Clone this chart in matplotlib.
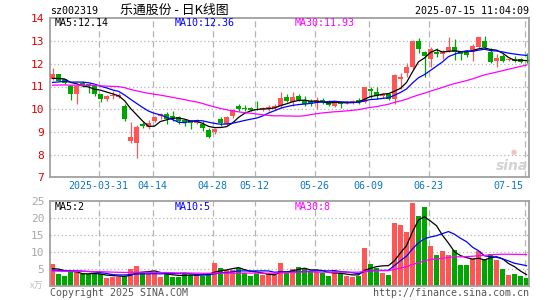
import matplotlib
matplotlib.use("Agg")
import matplotlib.pyplot as plt
import numpy as np
import pandas as pd

# daily candles 2025-03-19 .. 2025-07-15 (80 trading days)
opens = [11.31, 11.53, 11.31, 11.01, 10.65, 11.16, 11.12, 11.07, 10.65, 10.43,
         10.57, 10.53, 10.13, 8.62, 8.52, 9.35, 9.22, 9.49, 9.71, 9.79,
         9.71, 9.64, 9.52, 9.46, 9.39, 9.37, 9.09, 9.01, 9.56, 9.37,
         9.68, 10.12, 10.07, 10.04, 10.02, 9.99, 10.00, 10.07, 10.15, 10.55,
         10.30, 10.60, 10.40, 10.37, 10.31, 10.40, 10.34, 10.15, 10.32, 10.27,
         10.27, 10.41, 10.32, 10.91, 10.76, 10.56, 10.66, 10.47, 11.35, 11.59,
         11.84, 13.00, 12.53, 12.21, 12.53, 12.43, 12.57, 12.76, 12.53, 12.53,
         12.50, 12.72, 13.01, 12.53, 12.13, 12.35, 12.16, 12.22, 12.20, 12.18]
closes = [11.53, 11.26, 11.16, 10.65, 11.01, 11.04, 11.04, 10.65, 10.46, 10.60,
          10.63, 10.63, 9.57, 8.76, 9.21, 9.25, 9.41, 9.64, 9.79, 9.56,
          9.61, 9.46, 9.39, 9.39, 9.49, 9.16, 8.79, 9.12, 9.41, 9.67,
          9.96, 10.03, 10.00, 9.96, 9.98, 10.07, 10.10, 10.15, 10.49, 10.37,
          10.52, 10.40, 10.22, 10.25, 10.40, 10.31, 10.19, 10.35, 10.22, 10.32,
          10.37, 10.32, 10.96, 10.81, 10.56, 10.66, 10.44, 11.50, 11.44, 11.84,
          13.01, 12.65, 12.35, 12.65, 12.43, 12.53, 12.76, 12.53, 12.43, 12.38,
          12.79, 13.16, 12.76, 12.06, 12.24, 12.14, 12.20, 12.14, 12.08, 12.14]
highs = [11.82, 11.56, 11.35, 11.04, 11.04, 11.24, 11.12, 11.10, 10.68, 10.63,
         10.78, 10.70, 10.24, 9.43, 9.32, 9.43, 9.52, 9.68, 9.83, 9.86,
         9.93, 9.68, 9.56, 9.49, 9.56, 9.49, 9.16, 9.19, 9.67, 9.72,
         10.00, 10.22, 10.18, 10.10, 10.34, 10.10, 10.19, 10.25, 10.75, 10.67,
         10.75, 10.65, 10.60, 10.45, 10.52, 10.50, 10.40, 10.38, 10.37, 10.37,
         10.40, 10.50, 11.00, 11.00, 10.99, 10.72, 10.72, 11.54, 11.59, 12.03,
         13.03, 13.12, 12.55, 12.72, 12.68, 12.62, 13.16, 13.09, 12.56, 12.60,
         12.87, 13.16, 13.24, 12.68, 12.43, 12.43, 12.26, 12.35, 12.26, 12.46]
lows = [11.28, 11.24, 11.13, 10.41, 10.21, 11.00, 10.72, 10.60, 10.31, 10.38,
        10.46, 10.50, 9.50, 8.52, 7.84, 9.16, 9.12, 9.45, 9.56, 9.37,
        9.49, 9.37, 9.27, 9.13, 9.35, 9.04, 8.75, 8.90, 9.26, 9.30,
        9.62, 9.93, 9.90, 9.90, 9.95, 9.93, 9.93, 9.96, 10.07, 10.30,
        10.15, 10.35, 10.15, 10.15, 10.00, 10.25, 10.15, 10.10, 10.07, 10.22,
        10.22, 10.22, 10.27, 10.51, 10.47, 10.51, 10.40, 10.22, 10.91, 11.40,
        11.76, 12.47, 11.40, 11.84, 12.28, 12.21, 12.53, 12.18, 12.18, 12.30,
        12.13, 12.68, 12.65, 12.03, 11.88, 12.09, 12.12, 12.06, 12.02, 12.05]
volumes = [6.3, 3.4, 2.8, 4.0, 4.0, 3.3, 3.3, 3.3, 3.3, 2.3,
           2.6, 2.6, 2.8, 4.9, 5.7, 3.8, 3.5, 3.8, 2.6, 3.6,
           2.5, 2.6, 3.8, 3.2, 3.3, 2.9, 3.6, 6.8, 5.3, 4.6,
           4.7, 5.2, 3.8, 2.9, 3.5, 3.2, 3.3, 3.0, 6.7, 4.0,
           4.8, 5.4, 4.8, 4.2, 4.0, 3.7, 2.7, 4.2, 3.7, 2.7,
           2.5, 2.7, 11.1, 6.4, 5.3, 3.7, 3.0, 18.4, 18.0, 15.8,
           24.3, 20.5, 23.1, 11.7, 8.9, 10.1, 8.9, 10.4, 6.0, 6.0,
           7.9, 10.1, 7.9, 9.2, 7.5, 5.0, 3.0, 3.3, 2.7, 2.2]

# sessions before the window, only feed the moving averages
prior_closes = [11.08, 11.02, 10.96, 11.05, 11.10, 10.98, 10.92, 11.00, 11.06, 10.95,
                10.90, 10.98, 11.04, 11.12, 11.00, 10.94, 10.88, 10.96, 11.02, 10.98,
                11.05, 10.92, 11.00, 10.96, 11.08, 11.30, 11.25, 11.40, 11.32]
prior_volumes = [4.5, 3.8, 4.0, 4.6, 3.9, 4.2, 4.4, 3.7, 4.1, 4.8,
                 4.0, 3.9, 4.3, 4.5, 3.8, 4.1, 4.6, 4.0, 3.9, 4.2,
                 4.4, 4.1, 3.8, 4.0, 4.3, 4.2, 4.9, 5.2, 4.6]

tick_idx = [8, 17, 27, 34, 44, 53, 63, 79]
tick_labels = ['2025-03-31', '04-14', '04-28', '05-12', '05-26', '06-09', '06-23', '07-15']

price_ma_text = ['MA5:12.14', 'MA10:12.36', 'MA30:11.93']
vol_ma_text = ['MA5:2', 'MA10:5', 'MA30:8']

RED = '#ff5555'
GREEN = '#00a600'
GRID = '#b4b4b4'
FRAME = '#a0a0a0'
DATE_C = '#0a78c8'
MONO = 'DejaVu Sans Mono'
FS = 7.2

n = len(closes)
x = np.arange(n)
o = np.array(opens)
c = np.array(closes)
up = c >= o
cols = [RED if u else GREEN for u in up]

cs = pd.Series(prior_closes + closes)
vs = pd.Series(prior_volumes + volumes)
k = len(prior_closes)
ma = {p: cs.rolling(p, min_periods=1).mean().values[k:] for p in (5, 10, 30)}
vk = len(prior_volumes)
vma = {p: vs.rolling(p, min_periods=1).mean().values[vk:] for p in (5, 10, 30)}

W, H = 545, 300
fig = plt.figure(figsize=(W / 100, H / 100), dpi=100)
fig.patch.set_facecolor('white')

def px_axes(l, t, r, b):
    return fig.add_axes([l / W, 1 - b / H, (r - l) / W, (b - t) / H])

ax = px_axes(50, 18.4, 529, 177.3)
axv = px_axes(50, 201, 529, 285.6)

xlim = (-2.5 / 6, 479 / 6 - 2.5 / 6)
for a in (ax, axv):
    a.set_xlim(*xlim)
    a.set_xticks([])
    for s in a.spines.values():
        s.set_color(FRAME)
        s.set_linewidth(1.3)
    a.tick_params(length=0, pad=4)
    for t in tick_idx:
        a.axvline(t - 0.3, color=GRID, lw=0.9, ls=(0, (5, 3)), zorder=0)

# price panel
ax.set_ylim(7, 14)
ax.set_yticks(range(7, 15))
ax.set_yticklabels([str(v) for v in range(7, 15)], color='#e00000',
                   fontsize=FS + 0.8, family=MONO)
for v in range(8, 14):
    ax.axhline(v, color=GRID, lw=0.9, ls=(0, (1, 2)), zorder=0)

body = np.maximum(np.abs(c - o), 0.045)
ax.vlines(x, lows, highs, colors=cols, lw=0.9, zorder=2)
ax.bar(x, body, bottom=np.minimum(o, c), width=0.8, color=cols, zorder=3,
       linewidth=0)
ax.plot(x, ma[5], color='black', lw=0.9, zorder=4)
ax.plot(x, ma[10], color='#0000ff', lw=0.9, zorder=4)
ax.plot(x, ma[30], color='#ff00ff', lw=0.9, zorder=4)

ma_cols = ['black', '#0000ff', '#ff00ff']
ma_x = [55, 175, 295]
for txt, col, xp in zip(price_ma_text, ma_cols, ma_x):
    fig.text(xp / W, 1 - 23.5 / H, txt, color=col, fontsize=FS, family=MONO,
             va='center')
for txt, col, xp in zip(vol_ma_text, ma_cols, ma_x):
    fig.text(xp / W, 1 - 206.5 / H, txt, color=col, fontsize=FS, family=MONO,
             va='center')

# volume panel
axv.set_ylim(0, 25)
axv.set_yticks([5, 10, 15, 20, 25])
axv.set_yticklabels(['5', '10', '15', '20', '25'], color='#a8a8a8',
                    fontsize=FS + 0.8, family=MONO)
for v in (5, 10, 15, 20):
    axv.axhline(v, color=GRID, lw=0.9, ls=(0, (1, 2)), zorder=0)
axv.bar(x, volumes, width=0.8, color=cols, zorder=2, linewidth=0)
axv.plot(x, vma[5], color='black', lw=0.9, zorder=4)
axv.plot(x, vma[10], color='#0000ff', lw=0.9, zorder=4)
axv.plot(x, vma[30], color='#ff00ff', lw=0.9, zorder=4)

# date labels under the price panel (last one kept inside the frame)
for t, lab in zip(tick_idx, tick_labels):
    xp = 52.5 + 6 * (t - 0.3)
    ha = 'center'
    if t == tick_idx[-1]:
        xp, ha = 523, 'right'
    fig.text(xp / W, 1 - 186 / H, lab, color=DATE_C, fontsize=FS, family=MONO,
             ha=ha, va='center')

# header
fig.text(50 / W, 1 - 11 / H, 'sz002319', fontsize=FS, family=MONO, va='center')
fig.text(120 / W, 1 - 10.5 / H, '乐通股份 - 日K线图', fontsize=9.3,
         family=['Noto Sans CJK SC', 'DejaVu Sans'], va='center')
fig.text(529 / W, 1 - 11 / H, '2025-07-15 11:04:09', fontsize=FS, family=MONO,
         ha='right', va='center')

# footer
fig.text(50 / W, 1 - 292.5 / H, 'Copyright 2025 SINA.COM', fontsize=FS,
         family=MONO, color='#555555', va='center')
fig.text(529 / W, 1 - 292.5 / H, 'http://finance.sina.com.cn', fontsize=FS,
         family=MONO, color='#555555', ha='right', va='center')
fig.text(30 / W, 1 - 286 / H, 'x万', fontsize=6.5,
         family=['Noto Sans CJK SC', 'DejaVu Sans'], color='#c0c0c0', va='center')

# watermark
fig.text(512 / W, 1 - 166 / H, 'sina', fontsize=10, color='#d2d2d2',
         style='italic', weight='bold', ha='center', va='center')
fig.text(514 / W, 1 - 152 / H, '●', fontsize=5, color='#f4c0c0',
         ha='center', va='center')

fig.savefig('out.png', dpi=100)
